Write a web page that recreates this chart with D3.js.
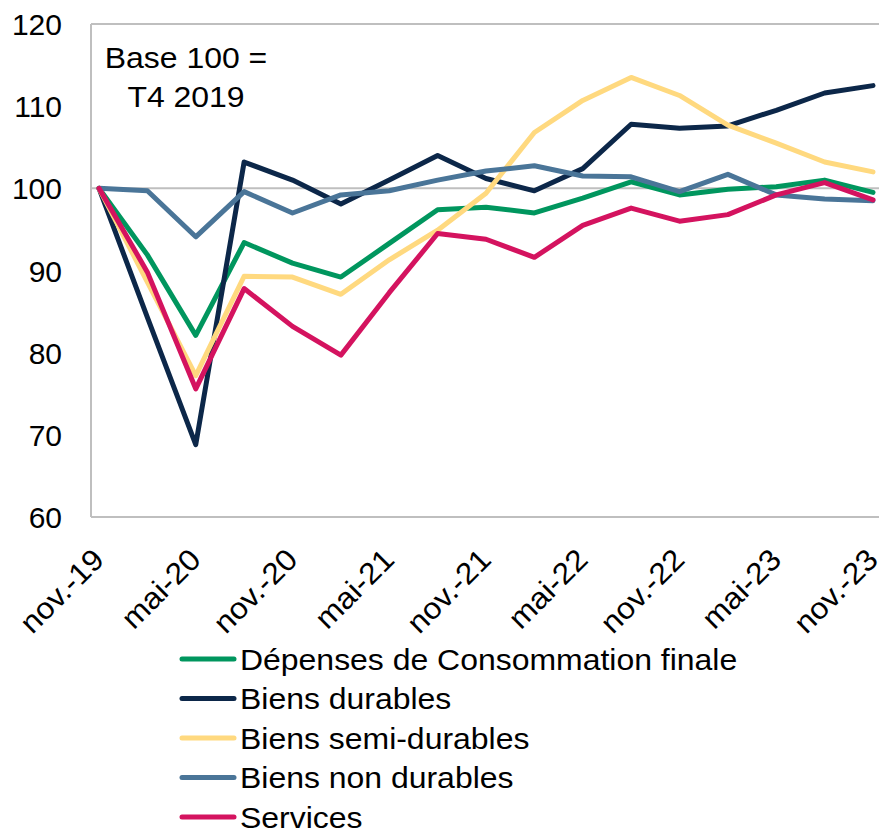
<!DOCTYPE html>
<html>
<head>
<meta charset="utf-8">
<script src="https://cdn.jsdelivr.net/npm/d3@7"></script>
<style>
  body { margin: 0; background: #fff; }
  text { font-family: "Liberation Sans", Arial, sans-serif; fill: #000; }
</style>
</head>
<body>
<svg id="chart" width="879" height="830"></svg>
<script>
// quarterly points, T4 2019 .. T4 2023
var quarters = d3.range(17);
var tickLabels = ["nov.-19", "mai-20", "nov.-20", "mai-21", "nov.-21", "mai-22", "nov.-22", "mai-23", "nov.-23"];

var depenses     = [100, 91.9, 82.1, 93.4, 90.9, 89.2, 93.3, 97.4, 97.7, 97.0, 98.8, 100.8, 99.2, 99.9, 100.2, 101.0, 99.5];
var durables     = [100, 84.3, 68.8, 103.2, 101.0, 98.1, 101.0, 104.0, 101.2, 99.7, 102.4, 107.8, 107.3, 107.6, 109.5, 111.6, 112.5];
var semiDurables = [100, 88.6, 77.2, 89.3, 89.2, 87.1, 91.3, 94.9, 99.4, 106.8, 110.7, 113.5, 111.3, 107.7, 105.5, 103.2, 102.0];
var nonDurables  = [100, 99.7, 94.1, 99.6, 97.0, 99.2, 99.7, 101.0, 102.1, 102.75, 101.5, 101.4, 99.6, 101.7, 99.2, 98.7, 98.5];
var services     = [100, 89.8, 75.6, 87.8, 83.2, 79.7, 87.3, 94.5, 93.8, 91.6, 95.5, 97.6, 96.0, 96.8, 99.2, 100.7, 98.6];

var seriesNames = ["Dépenses de Consommation finale", "Biens durables", "Biens semi-durables", "Biens non durables", "Services"];
var seriesColors = ["#00965E", "#0C2749", "#FFD97F", "#4A7598", "#D4135F"];
var seriesValues = [depenses, durables, semiDurables, nonDurables, services];

var svg = d3.select("#chart");

var plot = {left: 91, right: 880, top: 24, bottom: 517};
var fontSize = "30px";
var stretch = 1.065;

var x = d3.scaleLinear().domain([0, 16]).range([99, 873]);
var y = d3.scaleLinear().domain([60, 120]).range([plot.bottom, plot.top]);

// frame + line at 100
var grey = "#BFBFBF";
[120, 100, 60].forEach(function(v) {
  svg.append("line")
      .attr("x1", plot.left).attr("x2", plot.right)
      .attr("y1", y(v)).attr("y2", y(v))
      .attr("stroke", grey).attr("stroke-width", 2);
});
svg.append("line")
    .attr("x1", plot.left).attr("x2", plot.left)
    .attr("y1", y(120)).attr("y2", y(60))
    .attr("stroke", grey).attr("stroke-width", 2);

// y axis labels
var yAxis = d3.axisLeft(y).tickValues(d3.range(60, 121, 10)).tickSize(0).tickPadding(0);
var gy = svg.append("g")
    .attr("transform", "translate(62,0)")
    .call(yAxis);
gy.select(".domain").remove();
gy.selectAll("text")
    .style("font-size", fontSize)
    .attr("dy", "0.35em");

// x axis labels, every 2 quarters, rotated
var xAxis = d3.axisBottom(x).tickValues(d3.range(0, 17, 2))
    .tickFormat(function(d, i) { return tickLabels[i]; })
    .tickSize(0);
var gx = svg.append("g")
    .attr("transform", "translate(0," + plot.bottom + ")")
    .call(xAxis);
gx.select(".domain").remove();
gx.selectAll("text")
    .style("font-size", fontSize)
    .attr("text-anchor", "end")
    .attr("dy", "0.35em")
    .attr("y", 0)
    .attr("transform", "translate(-1,37) rotate(-45) scale(" + stretch + ",1)");

// lines
var line = d3.line()
    .x(function(d, i) { return x(quarters[i]); })
    .y(function(d) { return y(d); });

seriesValues.forEach(function(vals, k) {
  svg.append("path")
      .datum(vals)
      .attr("d", line)
      .attr("fill", "none")
      .attr("stroke", seriesColors[k])
      .attr("stroke-width", 5)
      .attr("stroke-linejoin", "round")
      .attr("stroke-linecap", "round");
});

// annotation
svg.append("text")
    .attr("transform", "translate(186,68) scale(" + stretch + ",1)")
    .attr("text-anchor", "middle")
    .style("font-size", fontSize)
    .text("Base 100 =");
svg.append("text")
    .attr("transform", "translate(186,107) scale(" + stretch + ",1)")
    .attr("text-anchor", "middle")
    .style("font-size", fontSize)
    .text("T4 2019");

// legend
var legend = svg.append("g");
seriesNames.forEach(function(name, k) {
  var ly = 659 + k * 39.5;
  legend.append("line")
      .attr("x1", 182).attr("x2", 234)
      .attr("y1", ly).attr("y2", ly)
      .attr("stroke", seriesColors[k])
      .attr("stroke-width", 5)
      .attr("stroke-linecap", "round");
  legend.append("text")
      .attr("transform", "translate(240," + ly + ") scale(" + stretch + ",1)")
      .attr("dy", "0.35em")
      .style("font-size", fontSize)
      .text(name);
});
</script>
</body>
</html>
